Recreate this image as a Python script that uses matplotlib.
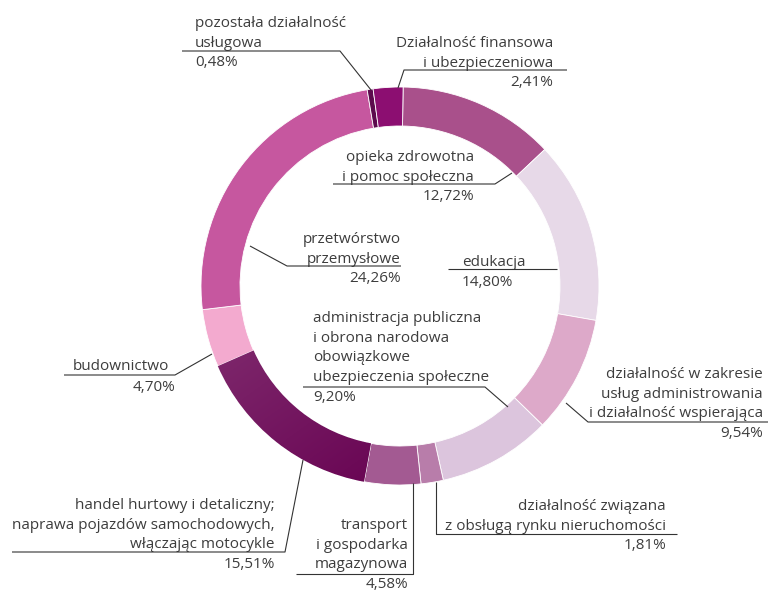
import matplotlib
matplotlib.use("Agg")
import matplotlib.pyplot as plt
import numpy as np
from matplotlib.colors import LinearSegmentedColormap

# ---- data (clockwise from top) ----
categories = [
    "opieka zdrowotna\ni pomoc społeczna",
    "edukacja",
    "działalność w zakresie\nusług administrowania\ni działalność wspierająca",
    "administracja publiczna\ni obrona narodowa\nobowiązkowe\nubezpieczenia społeczne",
    "działalność związana\nz obsługą rynku nieruchomości",
    "transport\ni gospodarka\nmagazynowa",
    "handel hurtowy i detaliczny;\nnaprawa pojazdów samochodowych,\nwłączając motocykle",
    "budownictwo",
    "przetwórstwo\nprzemysłowe",
    "pozostała działalność\nusługowa",
    "Działalność finansowa\ni ubezpieczeniowa",
]
values = [12.72, 14.80, 9.54, 9.20, 1.81, 4.58, 15.51, 4.70, 24.26, 0.48, 2.41]

colors = ["#A9508B", "#E7D9E8", "#DDA9C9", "#DCC5DD", "#B87DAA", "#A35A92",
          "#711560", "#F3AACF", "#C6579F", "#5C0A4D", "#8C0E71"]

# label layout (pixel coords): x anchor, ha, first baseline, optional pct anchor
label_layout = [
    dict(x=474, ha="right", y0=161),
    dict(x=462, ha="left", y0=266),
    dict(x=763, ha="right", y0=378),
    dict(x=313, ha="left", y0=322),
    dict(x=666, ha="right", y0=510),
    dict(x=408, ha="right", y0=529),
    dict(x=275, ha="right", y0=509),
    dict(x=73, ha="left", y0=370, px=175, pha="right"),
    dict(x=401, ha="right", y0=243),
    dict(x=195, ha="left", y0=27),
    dict(x=553, ha="right", y0=47),
]
leaders = [
    [(333, 184), (495, 184), (512, 173)],
    [(448, 269), (557, 269)],
    [(768, 422), (588, 422), (566, 403)],
    [(303, 387), (485, 387), (508, 407)],
    [(677, 534), (436, 534), (436, 482)],
    [(296, 574), (413, 574), (413, 483)],
    [(12, 552), (285, 552), (303, 460)],
    [(64, 375), (175, 375), (212, 354)],
    [(401, 266), (287, 266), (250, 246)],
    [(182, 51), (340, 51), (371, 90)],
    [(567, 70), (404, 70), (398, 88)],
]

W, H = 769, 591
fig = plt.figure(figsize=(W / 100, H / 100), dpi=100)
ax = fig.add_axes([0, 0, 1, 1])

def Y(py):
    return H - py

wedges, _ = ax.pie(values, colors=colors, startangle=89.1, counterclock=False,
                   radius=199, center=(400, Y(286)),
                   wedgeprops=dict(width=39, edgecolor="white", linewidth=0.6))
ax.set_xlim(0, W)
ax.set_ylim(0, H)
ax.set_aspect("equal")
ax.axis("off")

# gradient fill on the 'handel' wedge (upper-left lighter, lower-right darker)
hw = wedges[6]
grad_cmap = LinearSegmentedColormap.from_list("g", ["#7E286C", "#660050"])
gx, gy = np.meshgrid(np.linspace(0, 1, 200), np.linspace(0, 1, 200))
g = (gx + gy) / 2
im = ax.imshow(g, cmap=grad_cmap, extent=(215, 420, Y(490), Y(345)),
               origin="upper", zorder=hw.get_zorder() + 0.1, aspect="auto")
im.set_clip_path(hw)
ax.set_xlim(0, W)
ax.set_ylim(0, H)

txt_color = "#3d3d3d"
font = dict(family=["Open Sans", "DejaVu Sans"], fontsize=11, color=txt_color)
step = 19.7

for cat, v, lay, lead in zip(categories, values, label_layout, leaders):
    lines = cat.split("\n")
    pct = f"{v:.2f}".replace(".", ",") + "%"
    for i, ln in enumerate(lines):
        ax.text(lay["x"], Y(lay["y0"] + i * step), ln, ha=lay["ha"],
                va="baseline", **font)
    px = lay.get("px", lay["x"])
    pha = lay.get("pha", lay["ha"])
    ax.text(px, Y(lay["y0"] + len(lines) * step + (1 if "px" in lay else 0)), pct,
            ha=pha, va="baseline", **font)
    xs = [p[0] for p in lead]
    ys = [Y(p[1]) for p in lead]
    ax.plot(xs, ys, color="#333333", lw=0.8, solid_capstyle="butt", zorder=5)

fig.savefig("out.png", dpi=100)
